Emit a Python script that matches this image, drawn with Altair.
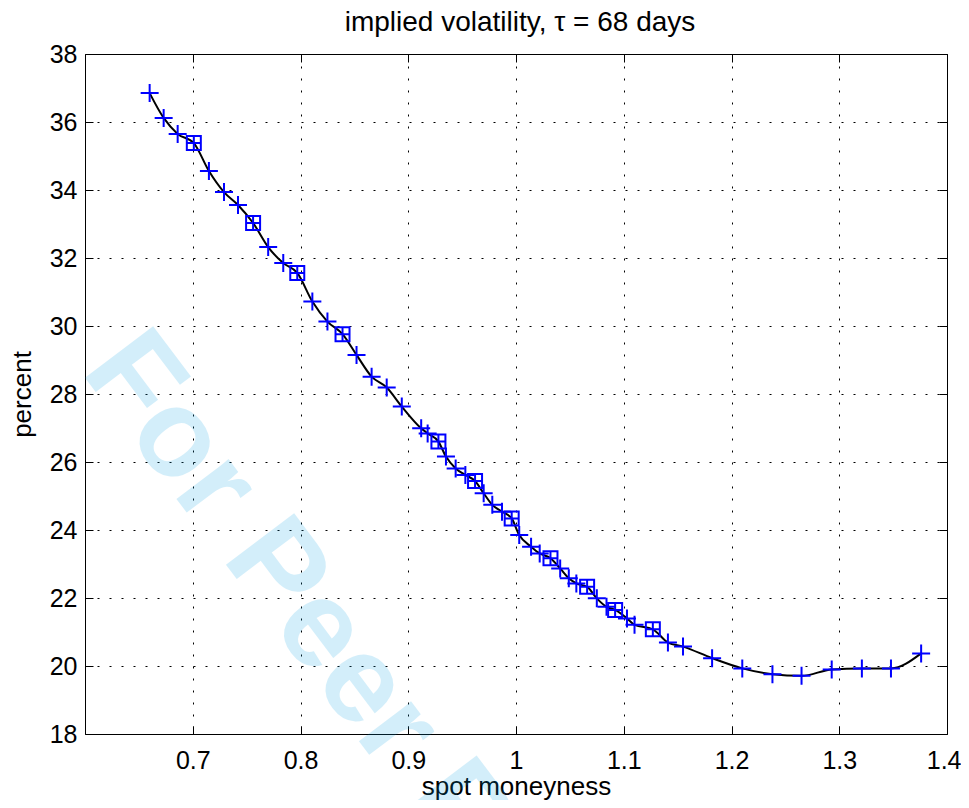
import altair as alt
import pandas as pd

# ---- data ----
plus_x = [0.660, 0.673, 0.686, 0.715, 0.729, 0.742, 0.770, 0.784, 0.811, 0.825,
          0.852, 0.866, 0.880, 0.894, 0.912, 0.918, 0.935, 0.944, 0.953, 0.970,
          0.978, 0.987, 1.003, 1.014, 1.022, 1.041, 1.049, 1.056, 1.075, 1.084,
          1.103, 1.110, 1.141, 1.155, 1.182, 1.210, 1.238, 1.265, 1.293, 1.321,
          1.348, 1.376]
plus_y = [36.85, 36.12, 35.65, 34.56, 33.94, 33.56, 32.32, 31.85, 30.72, 30.13,
          29.15, 28.51, 28.19, 27.63, 26.99, 26.84, 26.16, 25.81, 25.62, 25.08,
          24.74, 24.54, 23.85, 23.51, 23.31, 22.87, 22.58, 22.43, 21.99, 21.74,
          21.40, 21.21, 20.69, 20.57, 20.23, 19.93, 19.76, 19.71, 19.90, 19.93,
          19.93, 20.37]
square_x = [0.701, 0.756, 0.797, 0.839, 0.928, 0.962, 0.996, 1.032, 1.066, 1.092, 1.127]
square_y = [35.38, 33.03, 31.56, 29.76, 26.60, 25.44, 24.34, 23.17, 22.33, 21.65, 21.08]

x_ticks = [0.7, 0.8, 0.9, 1.0, 1.1, 1.2, 1.3, 1.4]
y_ticks = [18, 20, 22, 24, 26, 28, 30, 32, 34, 36, 38]
x_domain = [0.6, 1.4]
y_domain = [18, 38]

title_text = ["implied volatility,  \u03c4 = 68 days"]
x_title = "spot moneyness"
y_title = "percent"
watermark_text = ["For Peer Review"]

FONT = "Liberation Sans"

df_plus = pd.DataFrame({"m": plus_x, "iv": plus_y})
df_sq = pd.DataFrame({"m": square_x, "iv": square_y})
df_line = pd.concat([df_plus, df_sq]).sort_values("m").reset_index(drop=True)
df_wm = pd.DataFrame({"t": watermark_text})
df_title = pd.DataFrame({"t": title_text})

xs = alt.Scale(domain=x_domain, nice=False, zero=False)
ys = alt.Scale(domain=y_domain, nice=False, zero=False)

main_x_axis = alt.Axis(orient="bottom", values=x_ticks, format="~g",
                       labelFont=FONT, labelFontSize=25, labelColor="black",
                       labelPadding=14, labelFlush=True, labelFlushOffset=14,
                       labelOverlap=False,
                       ticks=False, tickSize=0, domain=False,
                       grid=True, gridColor="black", gridDash=[2, 10], gridWidth=1,
                       title=x_title, titleFont=FONT, titleFontSize=26,
                       titleFontWeight="normal", titleColor="black",
                       titleBaseline="alphabetic", titleY=60)
main_y_axis = alt.Axis(orient="left", values=y_ticks, format="d",
                       labelFont=FONT, labelFontSize=25, labelColor="black",
                       labelPadding=8, labelFlush=False, labelOverlap=False,
                       ticks=False, tickSize=0, domain=False,
                       grid=True, gridColor="black", gridDash=[2, 10], gridWidth=1,
                       title=y_title, titleFont=FONT, titleFontSize=26,
                       titleFontWeight="normal", titleColor="black",
                       titleAngle=270, titleBaseline="alphabetic",
                       titleX=-55, titleY=340)


def tick_axis(orient, values):
    return alt.Axis(orient=orient, values=values, offset=-8, ticks=True, tickSize=8,
                    tickColor="black", tickWidth=1, labels=False, domain=False,
                    grid=False, title=None)


wm = alt.Chart(df_wm).mark_text(
    font=FONT, fontSize=124, fontWeight="bold", align="left", baseline="alphabetic",
    angle=53, color="#00a0e6", opacity=0.17
).encode(text="t:N", x=alt.value(-5), y=alt.value(317))

title = alt.Chart(df_title).mark_text(
    font=FONT, fontSize=28, align="center", baseline="alphabetic", color="black"
).encode(text="t:N", x=alt.value(435), y=alt.value(-23))

line = alt.Chart(df_line).mark_line(color="black", strokeWidth=2, interpolate="monotone").encode(
    x=alt.X("m:Q", scale=xs, axis=main_x_axis),
    y=alt.Y("iv:Q", scale=ys, axis=main_y_axis),
)

plus_path = "M-1,0L1,0M0,-1L0,1"
sq_path = "M-1,-1L1,-1L1,1L-1,1ZM-1,0L1,0M0,-1L0,1"

plus = alt.Chart(df_plus).mark_point(
    shape=plus_path, size=324, filled=False, color="#0000ff", strokeWidth=2, opacity=1
).encode(
    x=alt.X("m:Q", scale=xs, axis=tick_axis("bottom", x_ticks)),
    y=alt.Y("iv:Q", scale=ys, axis=tick_axis("left", y_ticks)),
)

squares = alt.Chart(df_sq).mark_point(
    shape=sq_path, size=196, filled=False, color="#0000ff", strokeWidth=2, opacity=1
).encode(
    x=alt.X("m:Q", scale=xs, axis=tick_axis("top", x_ticks)),
    y=alt.Y("iv:Q", scale=ys, axis=tick_axis("right", y_ticks)),
)

chart = alt.layer(wm, title, line, plus, squares).resolve_axis(
    x="independent", y="independent"
).properties(
    width=862, height=680,
    autosize=alt.AutoSizeParams(type="none"),
    padding={"left": 77, "top": 46, "right": 14, "bottom": 66},
    background="white",
).configure_view(stroke="black", strokeWidth=1)

chart.save("out.html", embed_options={"renderer": "svg", "actions": False})
